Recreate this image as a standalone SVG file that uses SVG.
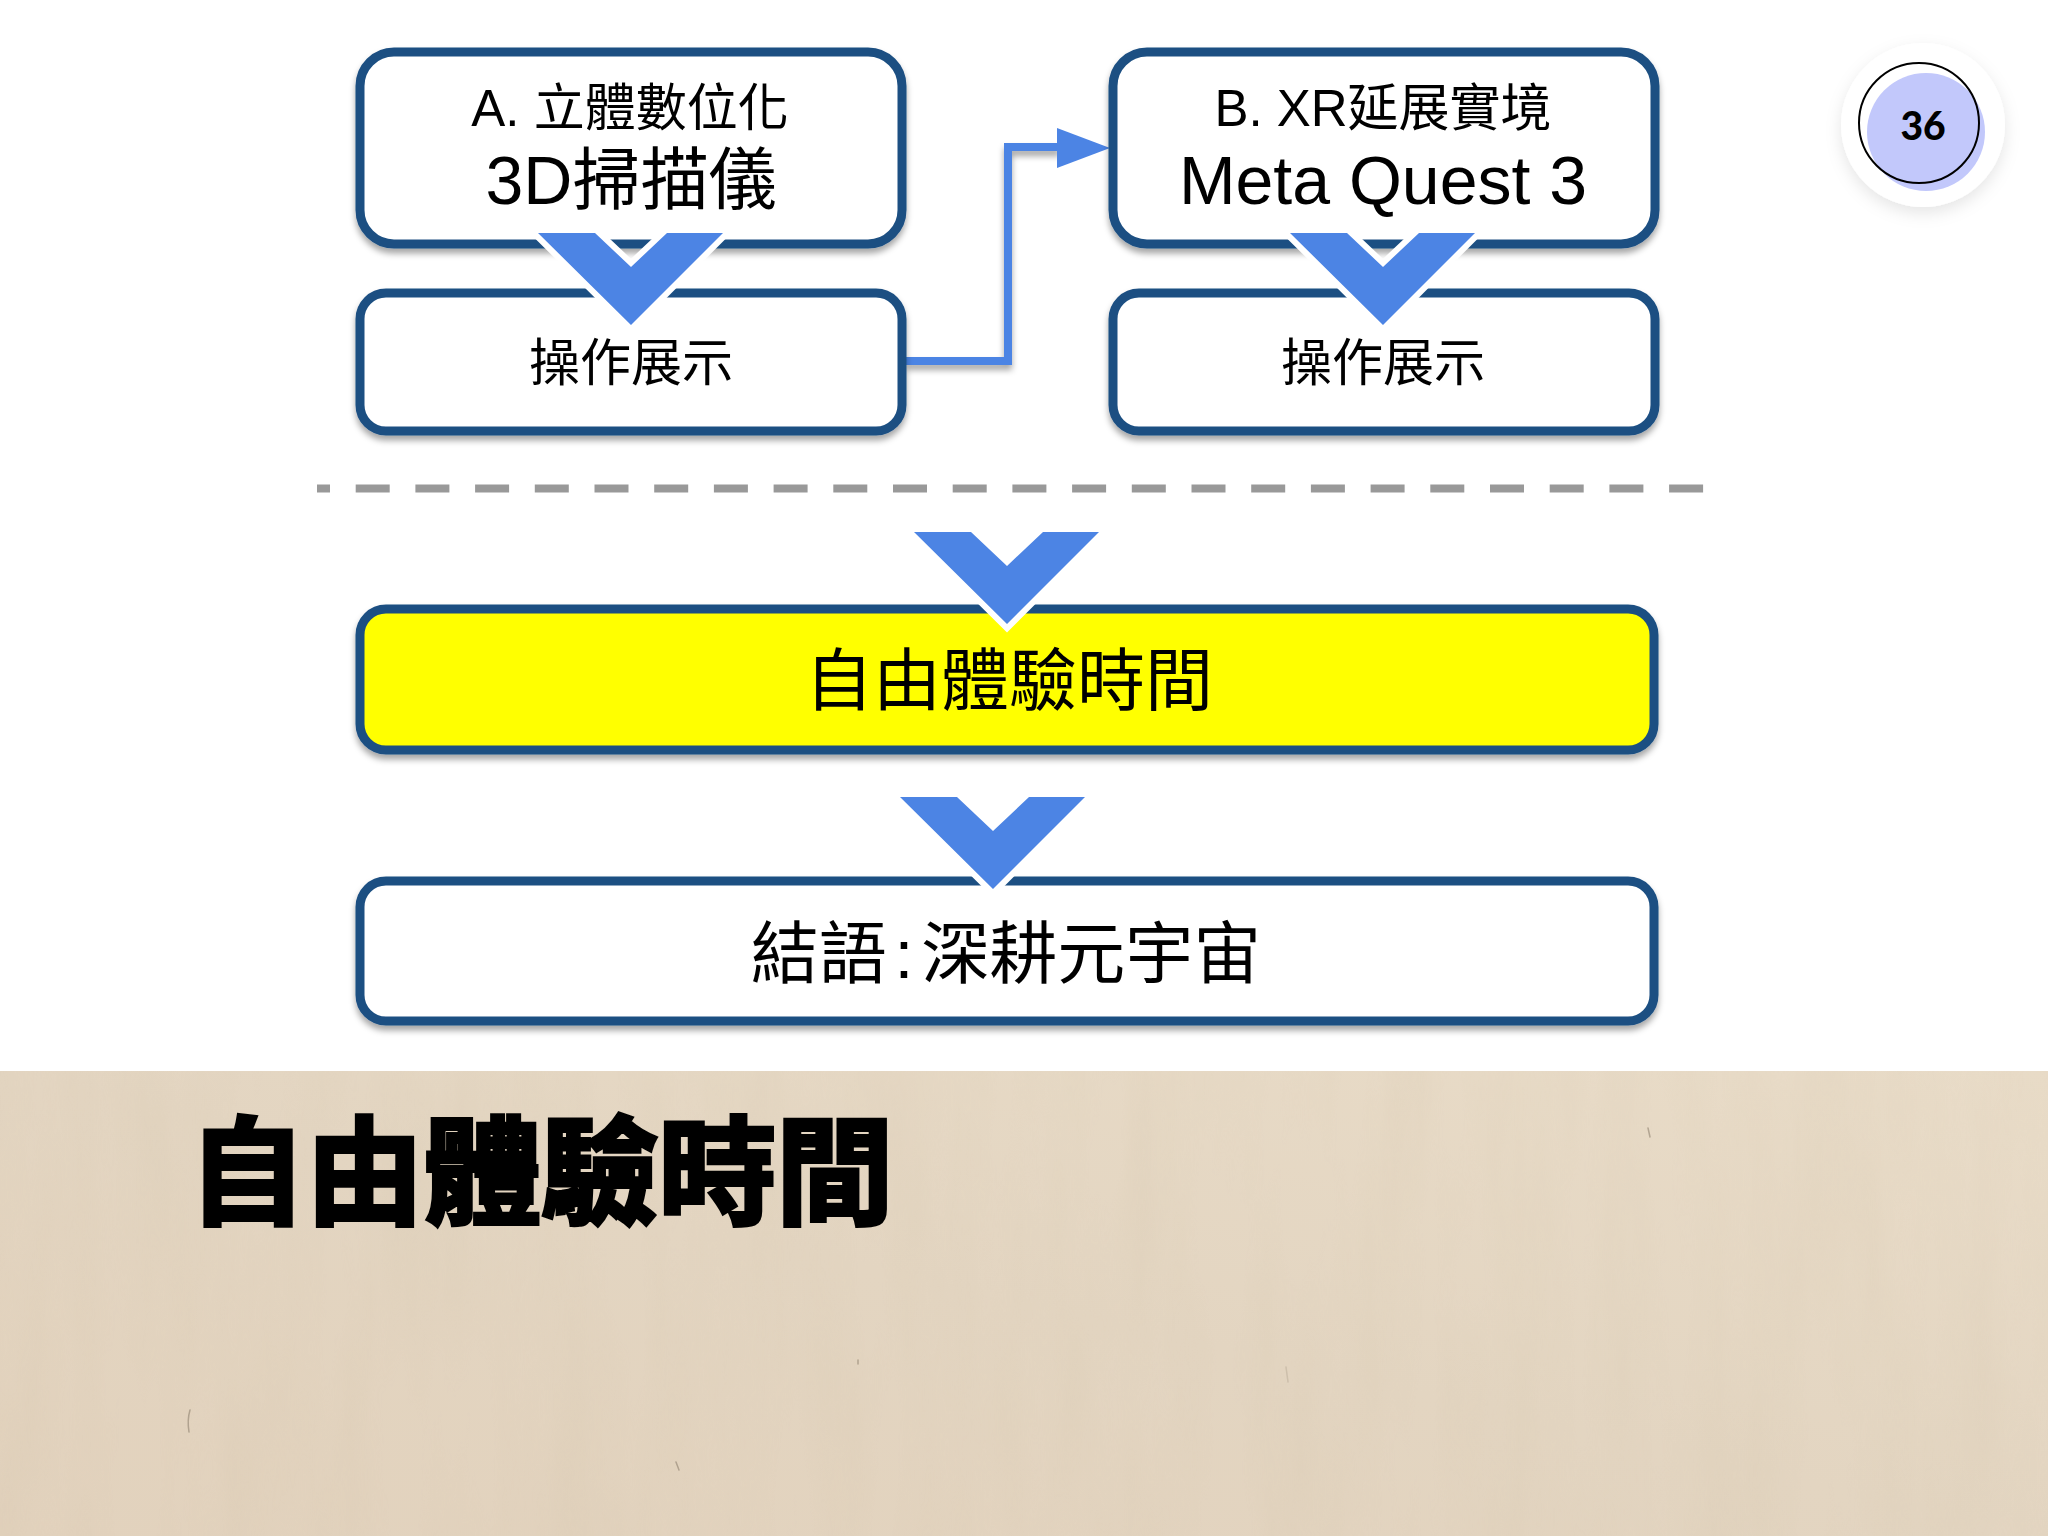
<svg xmlns="http://www.w3.org/2000/svg" width="2048" height="1536" viewBox="0 0 2048 1536">
<style>
text{font-family:"Liberation Sans","Noto Sans CJK TC",sans-serif;fill:#000;text-anchor:middle}
.box{fill:#fff;stroke:#1c4f82;stroke-width:9;filter:url(#sh)}
.chev{fill:#4c84e4;stroke:#fff;stroke-width:12;paint-order:stroke;stroke-linejoin:miter}
.t50{font-size:51px}.t66{font-size:68px}
.mark{fill:none;stroke:#8f8270;stroke-width:1.500;stroke-linecap:round;opacity:.6}
</style>
<defs>
<filter id="sh" x="-5%" y="-20%" width="110%" height="140%"><feDropShadow dx="0" dy="5" stdDeviation="3" flood-color="#000" flood-opacity=".35"/></filter>
<filter id="bsh" x="-30%" y="-30%" width="160%" height="160%"><feDropShadow dx="0" dy="6" stdDeviation="8" flood-color="#000" flood-opacity=".1"/></filter>
<filter id="paper" x="0" y="0" width="100%" height="100%"><feTurbulence type="fractalNoise" baseFrequency=".02 .003" numOctaves="4" seed="11"/><feColorMatrix values="0 0 0 0 .62  0 0 0 0 .52  0 0 0 0 .38  .6 0 0 0 -.2"/></filter>
<linearGradient id="bg" x1="0" y1="1" x2="1" y2="0"><stop offset="0" stop-color="#e2d2bd"/><stop offset=".5" stop-color="#e3d5c1"/><stop offset="1" stop-color="#e9dcc8"/></linearGradient>
<polygon id="c" points="-93,0 -36,0 0,34 36,0 92,0 0,92"/>
</defs>
<rect width="2048" height="1536" fill="#fff"/>
<g id="background"><rect y="1071" width="2048" height="465" fill="url(#bg)"/><rect y="1071" width="2048" height="465" filter="url(#paper)" opacity=".4"/>
<path class="mark" d="M190 1410Q187 1420 189 1432"/><path class="mark" d="M676 1462L679 1470"/><path class="mark" d="M858 1360V1364"/><path class="mark" d="M1648 1128L1650 1137"/><path class="mark" d="M1286 1367L1288 1382" style="opacity:.25"/>
</g>
<g id="connectors">
<path d="M906 361H1008V147H1060" fill="none" stroke="#4c84e4" stroke-width="8" filter="url(#sh)"/>
<polygon points="1057,128 1110,148 1057,168" fill="#4c84e4"/>
<path d="M317 488.500H1704" fill="none" stroke="#999" stroke-width="8" stroke-dasharray="34 25.700" stroke-dashoffset="21"/>
</g>
<g id="node-a"><rect class="box" x="360" y="52" width="542" height="192" rx="34"/><text class="t50" x="630" y="126">A. 立體數位化</text><text class="t66" x="631" y="204">3D掃描儀</text></g>
<g id="node-a-demo"><rect class="box" x="360" y="293" width="542" height="138" rx="26"/><text class="t50" x="631" y="381">操作展示</text></g>
<g id="node-b"><rect class="box" x="1113" y="52" width="542" height="192" rx="34"/><text class="t50" x="1383" y="126">B. XR延展實境</text><text class="t66" x="1383" y="204">Meta Quest 3</text></g>
<g id="node-b-demo"><rect class="box" x="1113" y="293" width="542" height="138" rx="26"/><text class="t50" x="1383" y="381">操作展示</text></g>
<g id="node-free"><rect class="box" style="fill:#ff0" x="360" y="609" width="1294" height="141" rx="26"/><text class="t66" x="1009" y="705">自由體驗時間</text></g>
<g id="node-end"><rect class="box" x="360" y="881" width="1294" height="140" rx="26"/><text class="t66" x="1006" y="978" word-spacing="-11">結語 : 深耕元宇宙</text></g>
<g id="chevrons">
<use href="#c" class="chev" x="631" y="233"/>
<use href="#c" class="chev" x="1383" y="233"/>
<use href="#c" class="chev" x="1007" y="532"/>
<use href="#c" class="chev" x="993" y="797"/>
</g>
<g id="heading"><text x="541" y="1215" style="font-size:117.500px;font-weight:700;stroke:#000;stroke-width:4px">自由體驗時間</text></g>
<g id="badge">
<circle cx="1923" cy="125" r="82" fill="#fff" filter="url(#bsh)"/>
<circle cx="1926" cy="132" r="59" fill="#c2c8fb"/>
<circle cx="1919" cy="123" r="60" fill="none" stroke="#000" stroke-width="2"/>
<text x="1923" y="140" style="font-family:Lato,sans-serif;font-weight:900;font-size:39px">36</text>
</g>
</svg>
